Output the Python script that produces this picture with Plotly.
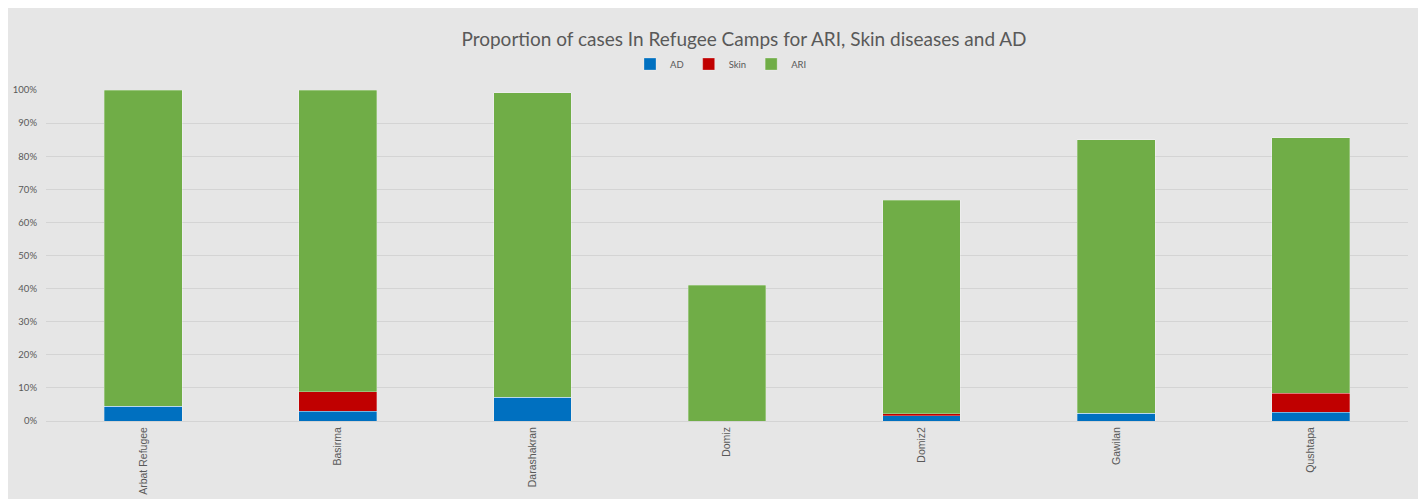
import plotly.graph_objects as go

camps = ["Arbat Refugee", "Basirma", "Darashakran", "Domiz", "Domiz2", "Gawilan", "Qushtapa"]
ad = [0.045, 0.030, 0.072, 0.000, 0.016, 0.024, 0.027]
skin = [0.000, 0.059, 0.000, 0.000, 0.006, 0.000, 0.057]
ari = [0.955, 0.911, 0.919, 0.410, 0.645, 0.826, 0.772]

series = [("AD", ad, "#0070C0"), ("Skin", skin, "#C00000"), ("ARI", ari, "#70AD47")]

fig = go.Figure()
for name, vals, col in series:
    fig.add_trace(go.Bar(
        name=name, x=camps, y=vals,
        marker=dict(color=col, line=dict(color="rgba(255,255,255,0.35)", width=0.8)),
        hovertemplate="%{x}<br>" + name + ": %{y:.1%}<extra></extra>",
    ))

W, H = 1414, 491
fig.update_layout(
    barmode="stack",
    bargap=0.6,
    width=W, height=H,
    margin=dict(l=38, r=14, t=82, b=78),
    paper_bgcolor="#E6E6E6",
    plot_bgcolor="#E6E6E6",
    font=dict(family="Lato, Open Sans, sans-serif", color="#595959", size=10),
    title=dict(
        text="Proportion of cases In Refugee Camps for ARI, Skin diseases and AD",
        font=dict(family="Lato, Open Sans, sans-serif", size=19, color="#595959"),
        x=(744 - 8) / W, xanchor="center", xref="container",
        y=1 - 31 / H, yanchor="middle", yref="container",
    ),
    legend=dict(
        orientation="h", x=0.4956, xanchor="center", y=1.0785, yanchor="middle",
        font=dict(size=9.5, color="#595959"), itemwidth=30,
        bgcolor="rgba(0,0,0,0)", traceorder="normal",
    ),
    showlegend=True,
)
fig.update_yaxes(
    range=[0, 1], dtick=0.1, tickformat=".0%", automargin=False,
    showgrid=True, gridcolor="#D4D4D4", gridwidth=1,
    zeroline=True, zerolinecolor="#D4D4D4", zerolinewidth=1,
    showline=False, ticks="", ticklen=0, ticklabelstandoff=8,
    tickfont=dict(size=9.5, color="#595959"),
)
fig.update_xaxes(
    tickangle=-90, showgrid=False, showline=False, ticks="", automargin=False,
    ticklabelstandoff=3,
    tickfont=dict(family="Liberation Sans, Arial, sans-serif", size=10.5, color="#595959"),
)

fig.write_html("out.html")
